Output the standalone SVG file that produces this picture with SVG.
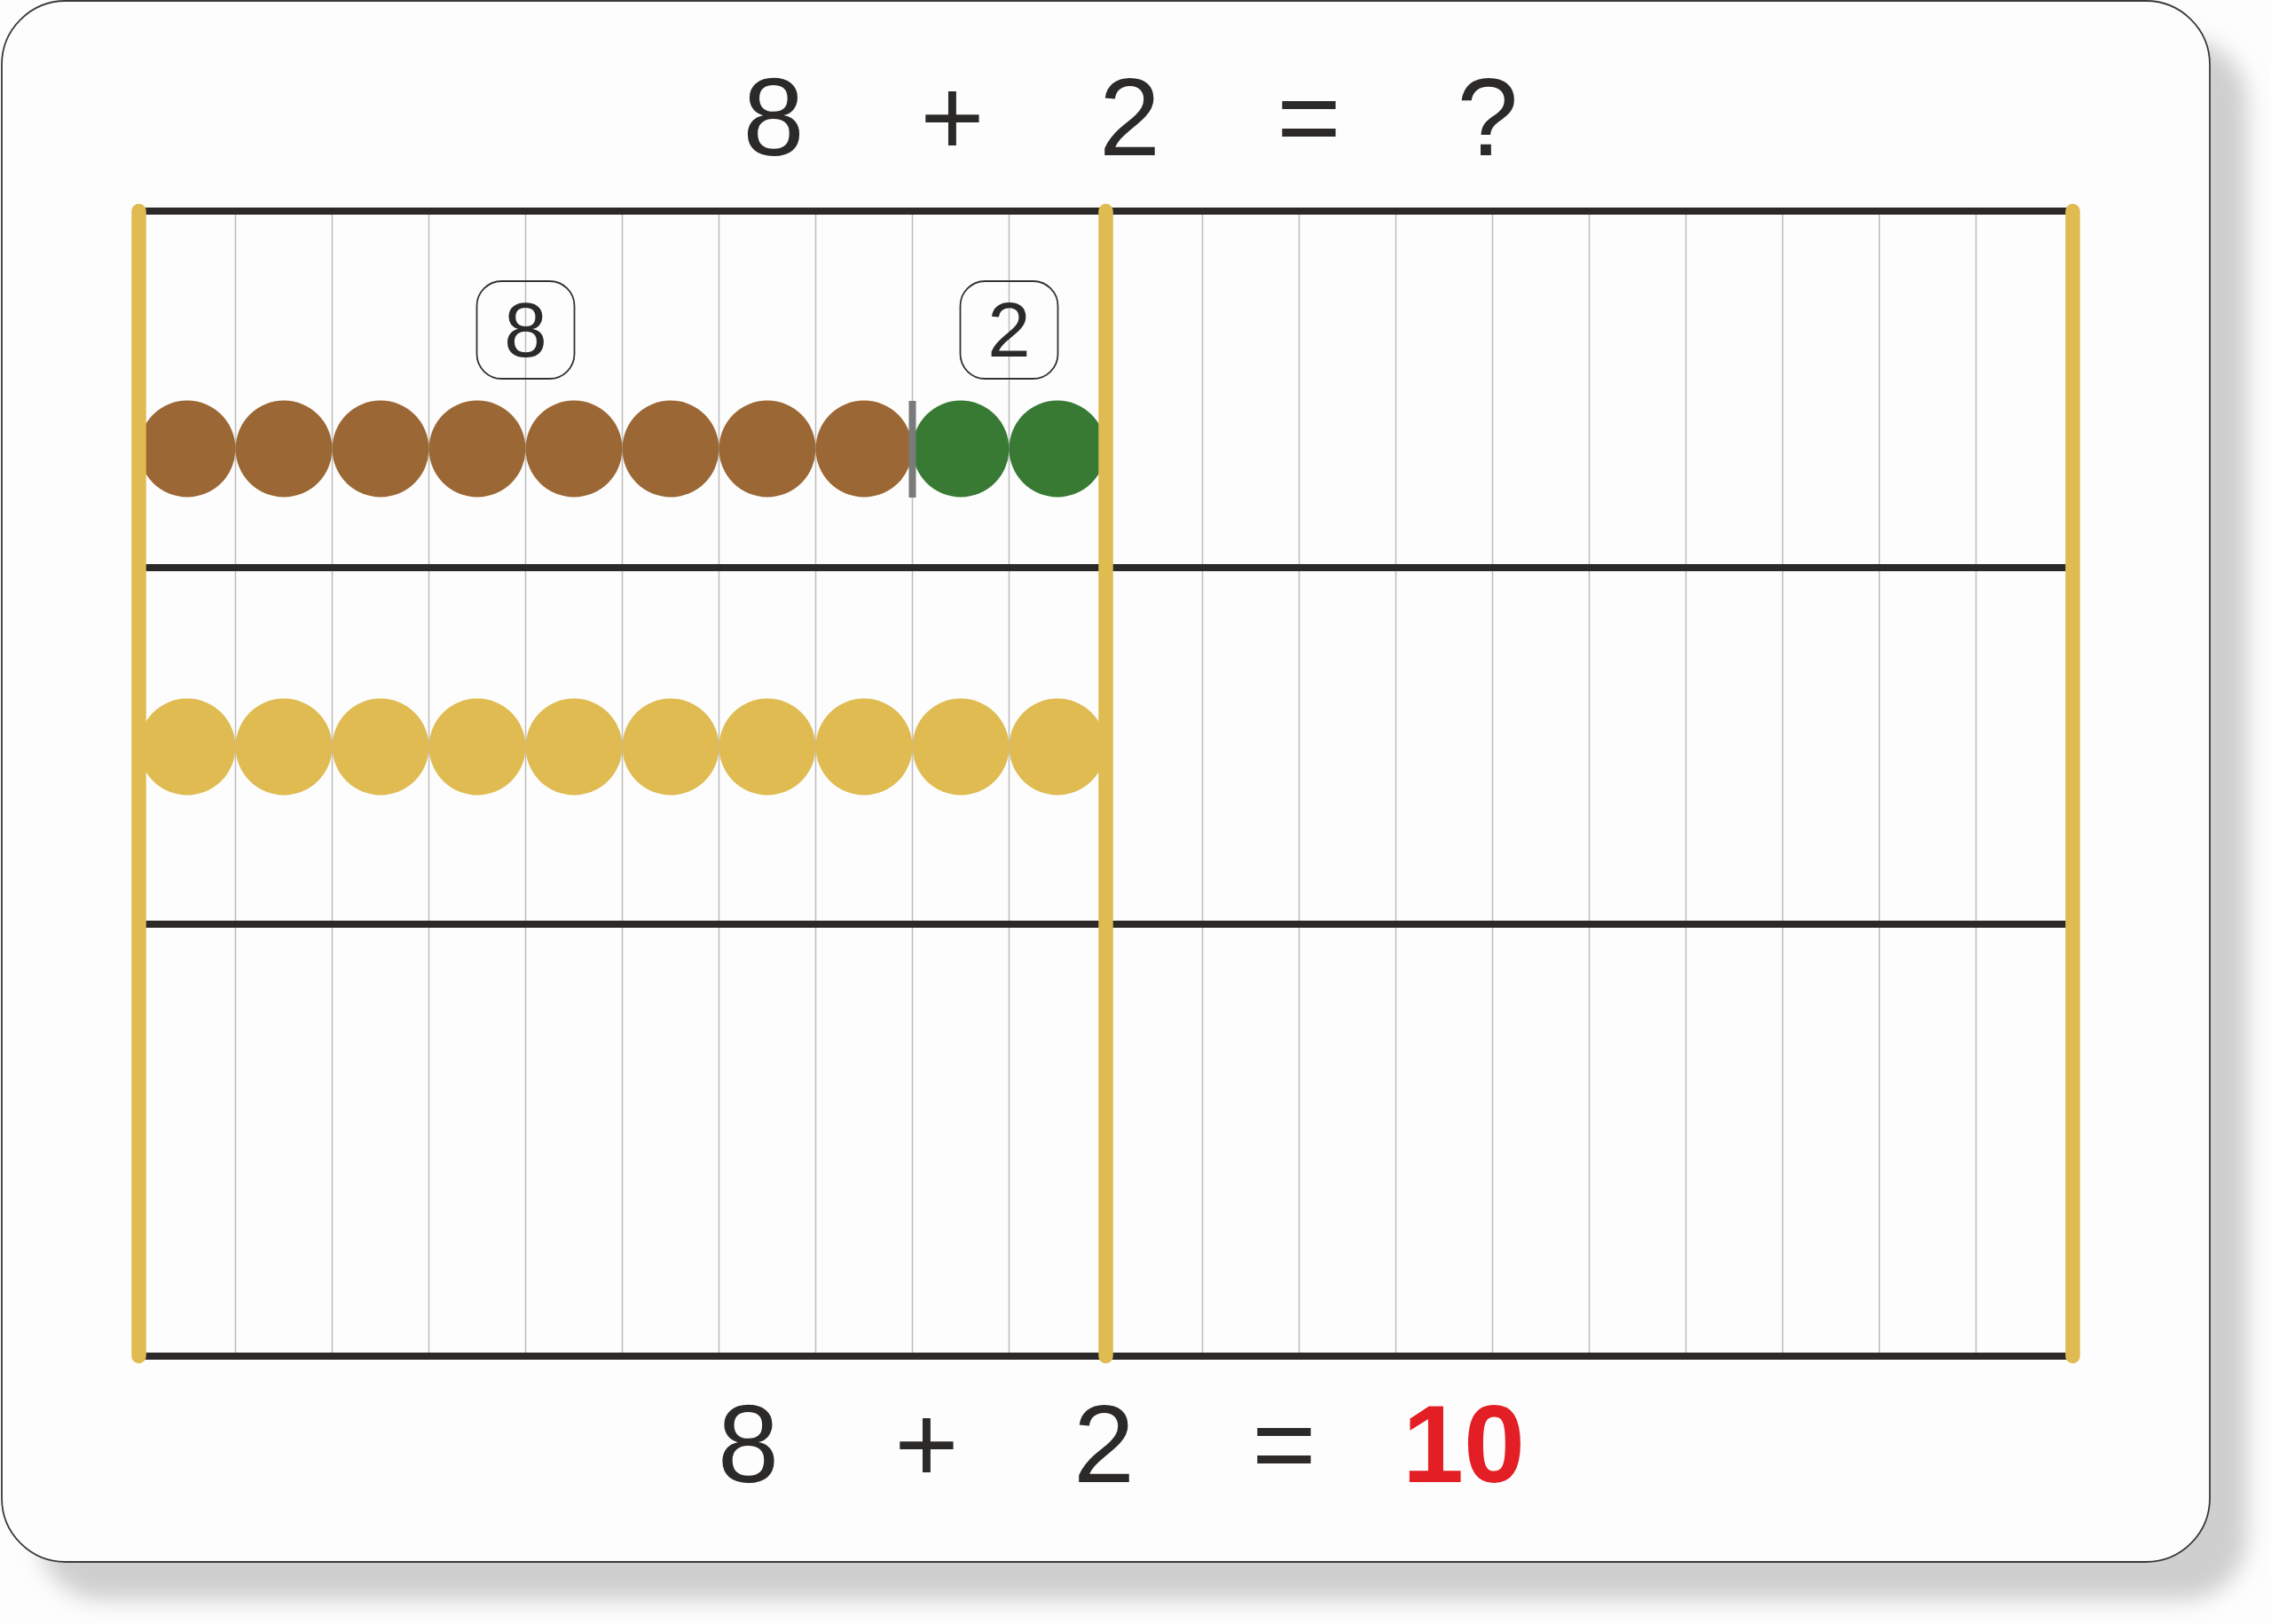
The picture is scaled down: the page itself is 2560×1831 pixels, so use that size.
<svg xmlns="http://www.w3.org/2000/svg" width="2560" height="1831" viewBox="0 0 2560 1831">
<defs>
<filter id="blur" x="-5%" y="-5%" width="110%" height="110%"><feGaussianBlur stdDeviation="12"/></filter>
<style>
.grid{stroke:#bdbdbd;stroke-width:1.5}
.bar{stroke:#2b2a28;stroke-width:8}
.rod{stroke:#dfbb52;stroke-width:16.5;stroke-linecap:round}
.brown{fill:#9b6734}
.green{fill:#387a34}
.yellow{fill:#dfbb52}
.box{fill:none;stroke:#333;stroke-width:1.8}
.eq{font-family:"Liberation Sans",Arial,sans-serif;font-size:124px;fill:#2b2a28;text-anchor:middle}
.lbl{font-family:"Liberation Sans",Arial,sans-serif;font-size:87px;fill:#2b2a28;text-anchor:middle}
</style>
</defs>
<rect width="2560" height="1831" fill="#fdfdfd"/>
<g id="board">
<rect x="44" y="44" width="2489" height="1760" rx="72" fill="#cfcfcf" filter="url(#blur)"/>
<rect x="2" y="1" width="2489" height="1760" rx="72" fill="#fdfdfd" stroke="#3a3a3a" stroke-width="1.8"/>
</g>
<g id="connectors">
<g id="grid-lines">
<line class="grid" x1="265.5" y1="238" x2="265.5" y2="1529"/>
<line class="grid" x1="374.5" y1="238" x2="374.5" y2="1529"/>
<line class="grid" x1="483.5" y1="238" x2="483.5" y2="1529"/>
<line class="grid" x1="592.5" y1="238" x2="592.5" y2="1529"/>
<line class="grid" x1="701.5" y1="238" x2="701.5" y2="1529"/>
<line class="grid" x1="810.5" y1="238" x2="810.5" y2="1529"/>
<line class="grid" x1="919.5" y1="238" x2="919.5" y2="1529"/>
<line class="grid" x1="1028.5" y1="238" x2="1028.5" y2="1529"/>
<line class="grid" x1="1137.5" y1="238" x2="1137.5" y2="1529"/>
<line class="grid" x1="1355.5" y1="238" x2="1355.5" y2="1529"/>
<line class="grid" x1="1464.5" y1="238" x2="1464.5" y2="1529"/>
<line class="grid" x1="1573.5" y1="238" x2="1573.5" y2="1529"/>
<line class="grid" x1="1682.5" y1="238" x2="1682.5" y2="1529"/>
<line class="grid" x1="1791.5" y1="238" x2="1791.5" y2="1529"/>
<line class="grid" x1="1900.5" y1="238" x2="1900.5" y2="1529"/>
<line class="grid" x1="2009.5" y1="238" x2="2009.5" y2="1529"/>
<line class="grid" x1="2118.5" y1="238" x2="2118.5" y2="1529"/>
<line class="grid" x1="2227.5" y1="238" x2="2227.5" y2="1529"/>
</g>
<g id="bars">
<line class="bar" x1="156.5" y1="238" x2="2336.5" y2="238"/>
<line class="bar" x1="156.5" y1="640" x2="2336.5" y2="640"/>
<line class="bar" x1="156.5" y1="1042" x2="2336.5" y2="1042"/>
<line class="bar" x1="156.5" y1="1529" x2="2336.5" y2="1529"/>
</g>
</g>
<g id="row1-beads">
<circle class="brown" cx="211" cy="506" r="54.5"/>
<circle class="brown" cx="320" cy="506" r="54.5"/>
<circle class="brown" cx="429" cy="506" r="54.5"/>
<circle class="brown" cx="538" cy="506" r="54.5"/>
<circle class="brown" cx="647" cy="506" r="54.5"/>
<circle class="brown" cx="756" cy="506" r="54.5"/>
<circle class="brown" cx="865" cy="506" r="54.5"/>
<circle class="brown" cx="974" cy="506" r="54.5"/>
<circle class="green" cx="1083" cy="506" r="54.5"/>
<circle class="green" cx="1192" cy="506" r="54.5"/>
</g>
<rect id="separator" x="1024.5" y="452" width="8" height="109" fill="#7a7a7a"/>
<g id="row2-beads">
<circle class="yellow" cx="211" cy="842" r="54.5"/>
<circle class="yellow" cx="320" cy="842" r="54.5"/>
<circle class="yellow" cx="429" cy="842" r="54.5"/>
<circle class="yellow" cx="538" cy="842" r="54.5"/>
<circle class="yellow" cx="647" cy="842" r="54.5"/>
<circle class="yellow" cx="756" cy="842" r="54.5"/>
<circle class="yellow" cx="865" cy="842" r="54.5"/>
<circle class="yellow" cx="974" cy="842" r="54.5"/>
<circle class="yellow" cx="1083" cy="842" r="54.5"/>
<circle class="yellow" cx="1192" cy="842" r="54.5"/>
</g>
<g id="rods">
<line class="rod" x1="156.5" y1="238" x2="156.5" y2="1529"/>
<line class="rod" x1="1246.5" y1="238" x2="1246.5" y2="1529"/>
<line class="rod" x1="2336.5" y1="238" x2="2336.5" y2="1529"/>
</g>
<g id="label-8">
<rect class="box" x="537.5" y="317" width="110" height="110" rx="28"/>
<text class="lbl" x="592.5" y="402">8</text>
</g>
<g id="label-2">
<rect class="box" x="1082.5" y="317" width="110" height="110" rx="28"/>
<text class="lbl" x="1137.5" y="402">2</text>
</g>
<g id="equation-top">
<text class="eq" x="872" y="175">8</text>
<text class="eq" x="1073.5" y="175">+</text>
<text class="eq" x="1273.5" y="175">2</text>
<text class="eq" x="1475.5" y="175">=</text>
<text class="eq" x="1677" y="175">?</text>
</g>
<g id="equation-bottom">
<text class="eq" x="843.5" y="1671">8</text>
<text class="eq" x="1044.5" y="1671">+</text>
<text class="eq" x="1244.5" y="1671">2</text>
<text class="eq" x="1447.5" y="1671">=</text>
<text class="eq" x="1650" y="1671" style="fill:#e31e24;font-weight:bold">10</text>
</g>
</svg>
